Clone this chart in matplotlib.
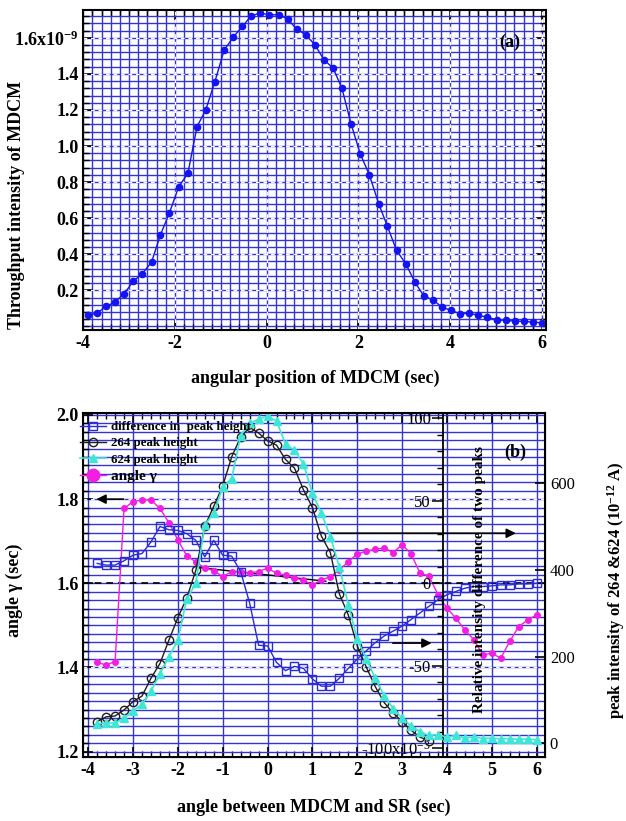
import matplotlib
matplotlib.use("Agg")
import matplotlib.pyplot as plt
from matplotlib.ticker import MultipleLocator, FixedLocator, FixedFormatter
from matplotlib.lines import Line2D

plt.rcParams['font.family'] = ['Liberation Serif', 'DejaVu Serif']
plt.rcParams['font.weight'] = 'bold'
plt.rcParams['axes.labelweight'] = 'bold'
plt.rcParams['axes.unicode_minus'] = False
plt.rcParams['mathtext.default'] = 'regular'

nan = float('nan')

##------------------- DATA (a): throughput vs angular position
pos_a = [-3.90, -3.70, -3.50, -3.31, -3.11, -2.91, -2.71, -2.51, -2.32, -2.12,
         -1.92, -1.72, -1.52, -1.33, -1.13, -0.93, -0.73, -0.53, -0.34, -0.14,
         0.06, 0.26, 0.46, 0.65, 0.85, 1.05, 1.25, 1.45, 1.64, 1.84,
         2.04, 2.24, 2.44, 2.63, 2.83, 3.03, 3.23, 3.43, 3.62, 3.82,
         4.02, 4.22, 4.42, 4.61, 4.81, 5.01, 5.21, 5.41, 5.60, 5.80, 6.00]
throughput = [0.061, 0.074, 0.111, 0.135, 0.181, 0.250, 0.293, 0.357, 0.506, 0.630,
              0.774, 0.848, 1.107, 1.200, 1.357, 1.530, 1.604, 1.663, 1.722, 1.737,
              1.728, 1.728, 1.704, 1.648, 1.617, 1.561, 1.478, 1.431, 1.320, 1.122,
              0.956, 0.839, 0.681, 0.556, 0.422, 0.348, 0.246, 0.167, 0.148, 0.107,
              0.089, 0.070, 0.074, 0.061, 0.052, 0.037, 0.033, 0.030, 0.028, 0.024, 0.020]
yticks_a = [0.2, 0.4, 0.6, 0.8, 1.0, 1.2, 1.4, 1.6]
ylabels_a = ['0.2', '0.4', '0.6', '0.8', '1.0', '1.2', '1.4', '1.6x10$^{-9}$']

##------------------- DATA (b)
pos_b = [-3.8, -3.6, -3.4, -3.2, -3.0, -2.8, -2.6, -2.4, -2.2, -2.0,
         -1.8, -1.6, -1.4, -1.2, -1.0, -0.8, -0.6, -0.4, -0.2, 0.0,
         0.2, 0.4, 0.6, 0.8, 1.0, 1.2, 1.4, 1.6, 1.8, 2.0,
         2.2, 2.4, 2.6, 2.8, 3.0, 3.2, 3.4, 3.6, 3.8, 4.0,
         4.2, 4.4, 4.6, 4.8, 5.0, 5.2, 5.4, 5.6, 5.8, 6.0]
angle_gamma = [1.412, 1.406, 1.414, 1.778, 1.794, 1.798, 1.798, 1.778, 1.744, 1.703,
               1.665, 1.651, 1.636, 1.630, 1.616, 1.628, 1.628, 1.625, 1.628, 1.636,
               1.624, 1.620, 1.612, 1.608, 1.596, 1.608, 1.616, 1.632, 1.651, 1.670,
               1.676, 1.681, 1.684, 1.673, 1.692, 1.670, 1.624, 1.617, 1.573, 1.541,
               1.517, 1.489, 1.466, 1.430, 1.434, 1.422, 1.462, 1.497, 1.513, 1.525]
diff_rel = [12, 11, 11, 13.6, 17, 18, 25, 34.4, 32.4, 32,
            30, 26, 16, 26, 17, 16.4, 7, -12, -37.6, -38,
            -48, -53, -50.4, -51.6, -58, -62.4, -62.4, -57.6, -51.6, -46,
            -41, -36, -32, -29, -26, -22, -18, -14, -10, -7,
            -5, -3, -2, -2, -1.6, -1, -1, -0.4, -0.4, 0]
# 264 circles are hidden under the 624 triangles beyond ~3.6 sec
peak264 = [50, 61, 63, 77, 96, 109, 150, 184, 238, 290,
           336, 399, 501, 547, 594, 661, 707, 729, 716, 698,
           688, 655, 635, 585, 544, 478, 440, 345, 296, 225,
           176, 131, 94, 70, 50, 30, 14, 6, nan, nan,
           nan, nan, nan, nan, nan, nan, nan, nan, nan, nan]
peak624 = [45, 47, 47, 58, 75, 90, 120, 160, 200, 238,
           334, 369, 504, 531, 591, 611, 710, 738, 748, 755,
           744, 690, 676, 645, 577, 531, 477, 407, 320, 240,
           195, 150, 110, 80, 58, 40, 27, 18, 20, 14,
           18, 12, 15, 11, 12, 10, 11, 9, 10, 8]
rel_ticks = [-100, -50, 0, 50, 100]
rel_labels = ['-100x10$^{-3}$', '-50', '0', '50', '100']
fit_x = [-1.5, 1.3]
fit_y = [1.637, 1.605]

gridblue = '#3434d4'
dash_w = (0, (3, 3))

fig = plt.figure(figsize=(6.26, 8.21), dpi=100)

##------------------- PANEL (a)
ax_a = fig.add_axes([0.133, 0.598, 0.740, 0.390])
ax_a.set_xlim(-4.0, 6.1)
ax_a.set_ylim(-0.02, 1.755)
ax_a.xaxis.set_major_locator(MultipleLocator(2))
ax_a.xaxis.set_minor_locator(MultipleLocator(0.2))
ax_a.yaxis.set_major_locator(FixedLocator(yticks_a))
ax_a.yaxis.set_major_formatter(FixedFormatter(ylabels_a))
ax_a.yaxis.set_minor_locator(MultipleLocator(0.04))
ax_a.grid(True, which='both', color=gridblue, lw=1.0)
for v in range(-4, 7, 2):
    ax_a.axvline(v, color='white', ls=dash_w, lw=0.9)
for v in yticks_a:
    ax_a.axhline(v, color='white', ls=dash_w, lw=0.9)
ax_a.set_axisbelow(True)
ax_a.plot(pos_a, throughput, '-o', color='#1414f0', lw=1.0, ms=4.5)
ax_a.tick_params(which='both', direction='in', top=True, right=True, labelsize=13)
ax_a.tick_params(which='major', length=7, width=1.2)
ax_a.tick_params(which='minor', length=4, width=1.0)
for s in ax_a.spines.values():
    s.set_linewidth(1.5)
ax_a.set_xlabel('angular position of MDCM (sec)', fontsize=13, labelpad=13)
ax_a.set_ylabel('Throughput intensity of MDCM', fontsize=13)
ax_a.yaxis.set_label_coords(-0.126, 0.39)
ax_a.text(0.92, 0.90, '(a)', transform=ax_a.transAxes, fontsize=13,
          ha='center', va='center')

##------------------- PANEL (b)
ax_b = fig.add_axes([0.133, 0.078, 0.7375, 0.419])
ax_b.set_xlim(-4.11, 6.185)
ax_b.set_ylim(1.1874, 2.0048)
ax_b.xaxis.set_major_locator(MultipleLocator(1))
ax_b.xaxis.set_minor_locator(MultipleLocator(0.2))
ax_b.yaxis.set_major_locator(MultipleLocator(0.2))
ax_b.yaxis.set_minor_locator(MultipleLocator(0.02))
ax_b.grid(True, which='major', axis='x', color=gridblue, lw=1.0)
ax_b.grid(True, which='both', axis='y', color=gridblue, lw=1.0)
for v in [1.4, 1.8]:
    ax_b.axhline(v, color='white', ls=dash_w, lw=0.9)
ax_b.set_axisbelow(True)
ax_b.axhline(1.6, color='black', ls=(0, (4, 3)), lw=1.2)
ax_b.plot(fit_x, fit_y, color='black', lw=1.0)
ax_b.plot(pos_b, angle_gamma, '-o', color='#f21ee2', lw=1.0, ms=4)
ax_b.annotate('', xy=(-3.88, 1.8), xytext=(-3.15, 1.8),
              arrowprops=dict(arrowstyle='-|>', color='black', lw=1.2, mutation_scale=14))
ax_b.annotate('', xy=(5.6, 1.719), xytext=(1.33, 1.719),
              arrowprops=dict(arrowstyle='-|>', color='black', lw=1.2, mutation_scale=14))
ax_b.annotate('', xy=(3.72, 1.458), xytext=(2.73, 1.458),
              arrowprops=dict(arrowstyle='-|>', color='black', lw=1.2, mutation_scale=14))
ax_b.tick_params(which='both', direction='in', top=True, labelsize=13)
ax_b.tick_params(which='major', length=7, width=1.2)
ax_b.tick_params(which='minor', length=4, width=1.0)
for s in ax_b.spines.values():
    s.set_linewidth(1.5)
ax_b.set_xlabel('angle between MDCM and SR (sec)', fontsize=13, labelpad=14)
ax_b.set_ylabel('angle \u03b3 (sec)', fontsize=13)
ax_b.yaxis.set_label_coords(-0.131, 0.485)

# relative difference axis, spine inside the plot
ax_rel = ax_b.twinx()
ax_rel.set_ylim(-105.3, 103.2)
ax_rel.spines['left'].set_position(('axes', 0.78))
ax_rel.spines['left'].set_linewidth(1.3)
ax_rel.spines['right'].set_visible(False)
ax_rel.spines['top'].set_visible(False)
ax_rel.spines['bottom'].set_visible(False)
ax_rel.yaxis.set_ticks_position('left')
ax_rel.yaxis.set_major_locator(FixedLocator(rel_ticks))
ax_rel.yaxis.set_major_formatter(FixedFormatter(rel_labels))
ax_rel.yaxis.set_minor_locator(MultipleLocator(10))
ax_rel.tick_params(which='major', direction='out', length=8, width=1.1, pad=1, labelsize=12)
ax_rel.tick_params(which='minor', direction='out', length=4, width=1.0)
for lab in ax_rel.get_yticklabels():
    lab.set_fontweight('normal')
ax_rel.plot(pos_b, diff_rel, '-s', color='#2a2ad8', mfc='none', lw=1.0, ms=6, mew=1.0)
ax_rel.text(0.859, 0.515, 'Relative intensity difference of two peaks',
            transform=ax_b.transAxes, rotation=90, fontsize=11,
            ha='center', va='center')

# peak intensity axis on the right
ax_r = ax_b.twinx()
ax_r.set_ylim(-31.6, 762.3)
ax_r.yaxis.set_major_locator(MultipleLocator(200))
ax_r.tick_params(which='major', direction='in', length=7, width=1.2, labelsize=12)
for lab in ax_r.get_yticklabels():
    lab.set_fontweight('normal')
ax_r.plot(pos_b, peak264, '-o', color='#1e1e1e', mfc='none', lw=1.0, ms=6, mew=1.0)
ax_r.plot(pos_b, peak624, '-^', color='#3ee6d8', lw=1.2, ms=6)
ax_r.set_ylabel('peak intensity of 264 &624 (10$^{-12}$ A)', fontsize=12)
ax_r.yaxis.set_label_coords(1.13, 0.485)
ax_r.text(0.935, 0.885, '(b)', transform=ax_b.transAxes, fontsize=13,
          ha='center', va='center')

handles = [
    Line2D([], [], color='#2a2ad8', marker='s', mfc='none', ms=6, lw=1.0),
    Line2D([], [], color='#1e1e1e', marker='o', mfc='none', ms=6, lw=1.0),
    Line2D([], [], color='#3ee6d8', marker='^', ms=6, lw=1.2),
    Line2D([], [], color='#f21ee2', marker='o', ms=9, lw=1.0),
]
labels = ['difference in  peak height', '264 peak height', '624 peak height', 'angle \u03b3']
leg = ax_r.legend(handles, labels, loc='upper left', bbox_to_anchor=(-0.02, 0.995),
                  frameon=False, fontsize=9.3, handlelength=2.0, handletextpad=0.4,
                  labelspacing=0.32, borderaxespad=0.1)
leg.get_texts()[3].set_fontsize(11)

fig.savefig('out.png', dpi=100)
